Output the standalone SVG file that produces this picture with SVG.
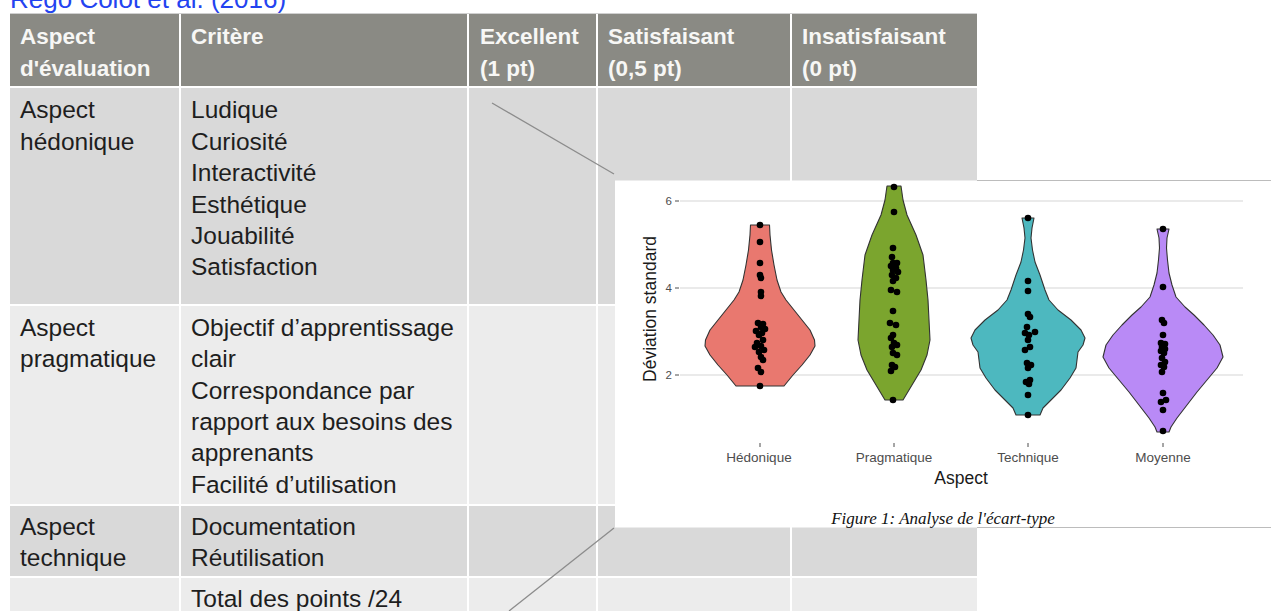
<svg xmlns="http://www.w3.org/2000/svg" width="1271" height="611" viewBox="0 0 1271 611">
<style>
.hd{font-family:"Liberation Sans",Arial,sans-serif;font-size:22.5px;font-weight:bold;fill:#f7f7f5}
.bd{font-family:"Liberation Sans",Arial,sans-serif;font-size:24.5px;fill:#1e1e1e}
.tk{font-family:"Liberation Sans",Arial,sans-serif;font-size:11.5px;fill:#4d4d4d}
.xl{font-family:"Liberation Sans",Arial,sans-serif;font-size:13.5px;fill:#4d4d4d}
.ttl{font-family:"Liberation Sans",Arial,sans-serif;font-size:17.5px;fill:#1a1a1a}
.cap{font-family:"Liberation Serif","Times New Roman",serif;font-size:17px;font-style:italic;fill:#111}
.grid{stroke:#e3e3e3;stroke-width:1.5}
.vio{stroke:#333;stroke-width:1.1;stroke-linejoin:round}
.pt{fill:#000}
.sep{stroke:#ffffff;stroke-width:2}
.conn{stroke:#8c8c8c;stroke-width:1.3;fill:none}
</style>
<rect width="1271" height="611" fill="#ffffff"/>
<text x="10" y="8" font-family="Liberation Sans, Arial, sans-serif" font-size="26" fill="#2343f0">Rego Colot et al. (2016)</text>

<g id="table">
  <line x1="10" y1="13.5" x2="977" y2="13.5" stroke="#d0d0d0" stroke-width="1"/>
  <rect id="header" x="10" y="14" width="967" height="72" fill="#8a8a84"/>
  <rect id="row-hedonique" x="10" y="88" width="967" height="216" fill="#d9d9d9"/>
  <rect id="row-pragmatique" x="10" y="306" width="967" height="198" fill="#ececec"/>
  <rect id="row-technique" x="10" y="506" width="967" height="70" fill="#d9d9d9"/>
  <rect id="row-total" x="10" y="578" width="967" height="40" fill="#ececec"/>
  <g class="sep">
    <line x1="180" y1="14" x2="180" y2="611"/>
    <line x1="468" y1="14" x2="468" y2="611"/>
    <line x1="597" y1="14" x2="597" y2="611"/>
    <line x1="791" y1="14" x2="791" y2="611"/>
  </g>
  <g id="header-text" class="hd">
    <text x="20" y="44">Aspect</text>
    <text x="20" y="76">d'évaluation</text>
    <text x="191" y="44">Critère</text>
    <text x="480" y="44">Excellent</text>
    <text x="480" y="76">(1 pt)</text>
    <text x="608" y="44">Satisfaisant</text>
    <text x="608" y="76">(0,5 pt)</text>
    <text x="802" y="44">Insatisfaisant</text>
    <text x="802" y="76">(0 pt)</text>
  </g>
  <g id="cell-hedonique" class="bd">
    <text x="20" y="118">Aspect</text>
    <text x="20" y="149.5">hédonique</text>
    <text x="191" y="118">Ludique</text>
    <text x="191" y="149.5">Curiosité</text>
    <text x="191" y="181">Interactivité</text>
    <text x="191" y="212.5">Esthétique</text>
    <text x="191" y="244">Jouabilité</text>
    <text x="191" y="275">Satisfaction</text>
  </g>
  <g id="cell-pragmatique" class="bd">
    <text x="20" y="336">Aspect</text>
    <text x="20" y="367.3">pragmatique</text>
    <text x="191" y="336">Objectif d’apprentissage</text>
    <text x="191" y="367.3">clair</text>
    <text x="191" y="398.6">Correspondance par</text>
    <text x="191" y="429.9">rapport aux besoins des</text>
    <text x="191" y="461.2">apprenants</text>
    <text x="191" y="492.5">Facilité d’utilisation</text>
  </g>
  <g id="cell-technique" class="bd">
    <text x="20" y="535">Aspect</text>
    <text x="20" y="566">technique</text>
    <text x="191" y="535">Documentation</text>
    <text x="191" y="566">Réutilisation</text>
  </g>
  <g id="cell-total" class="bd">
    <text x="191" y="607">Total des points /24</text>
  </g>
</g>

<g id="connectors">
  <line class="conn" x1="492" y1="103" x2="614" y2="174"/>
  <line class="conn" x1="509" y1="611" x2="614" y2="528"/>
</g>

<g id="chart">
  <rect x="615" y="180.5" width="656" height="347" fill="#ffffff"/>
  <line x1="977" y1="180.5" x2="1271" y2="180.5" stroke="#bcbcbc" stroke-width="1"/>
  <line x1="977" y1="527.5" x2="1271" y2="527.5" stroke="#bcbcbc" stroke-width="1"/>
  <g id="gridlines">
    <line class="grid" x1="680" y1="201" x2="1243" y2="201"/>
    <line class="grid" x1="680" y1="288" x2="1243" y2="288"/>
    <line class="grid" x1="680" y1="375" x2="1243" y2="375"/>
  </g>
  <g id="y-axis">
    <g stroke="#4d4d4d" stroke-width="1">
      <line x1="675" y1="201" x2="679" y2="201"/>
      <line x1="675" y1="288" x2="679" y2="288"/>
      <line x1="675" y1="375" x2="679" y2="375"/>
    </g>
    <text class="tk" x="672" y="205" text-anchor="end">6</text>
    <text class="tk" x="672" y="292" text-anchor="end">4</text>
    <text class="tk" x="672" y="379" text-anchor="end">2</text>
    <text class="ttl" transform="translate(656,309) rotate(-90)" text-anchor="middle">Déviation standard</text>
  </g>
  <g id="x-axis">
    <g stroke="#4d4d4d" stroke-width="1">
      <line x1="760" y1="443" x2="760" y2="447"/>
      <line x1="894" y1="443" x2="894" y2="447"/>
      <line x1="1028" y1="443" x2="1028" y2="447"/>
      <line x1="1163" y1="443" x2="1163" y2="447"/>
    </g>
    <text class="xl" x="759" y="462" text-anchor="middle">Hédonique</text>
    <text class="xl" x="894" y="462" text-anchor="middle">Pragmatique</text>
    <text class="xl" x="1028" y="462" text-anchor="middle">Technique</text>
    <text class="xl" x="1163" y="462" text-anchor="middle">Moyenne</text>
    <text class="ttl" x="961" y="484" text-anchor="middle">Aspect</text>
  </g>

  <g id="violin-hedonique">
    <path class="vio" fill="#e9786f" d="M750.5,225 L769.5,225 L770,235 L771.5,250 L774,265 L777,280 L781,292 L786,300 L794,310 L802,320 L810,330 L814.5,340 L815,346 L810,355 L802,365 L793,375 L784,386 L736,386 L727,375 L718,365 L710,355 L705,346 L705.5,340 L710,330 L718,320 L726,310 L734,300 L739,292 L743,280 L746,265 L748.5,250 L750,235 Z"/>
    <g class="pt">
      <circle cx="760" cy="225" r="3.3"/><circle cx="760" cy="242" r="3.3"/><circle cx="760" cy="263" r="3.3"/>
      <circle cx="760" cy="275" r="3.3"/><circle cx="761" cy="278" r="3.3"/><circle cx="761" cy="292" r="3.3"/>
      <circle cx="761" cy="296" r="3.3"/><circle cx="758" cy="323" r="3.3"/><circle cx="763" cy="324" r="3.3"/>
      <circle cx="761" cy="327" r="3.3"/><circle cx="765" cy="329" r="3.3"/><circle cx="756" cy="331" r="3.3"/>
      <circle cx="762" cy="333" r="3.3"/><circle cx="759" cy="335" r="3.3"/><circle cx="763" cy="340" r="3.3"/>
      <circle cx="757" cy="343" r="3.3"/><circle cx="761" cy="346" r="3.3"/><circle cx="764" cy="350" r="3.3"/>
      <circle cx="759" cy="352" r="3.3"/><circle cx="755" cy="347" r="3.3"/><circle cx="761" cy="357" r="3.3"/>
      <circle cx="763" cy="360" r="3.3"/><circle cx="758" cy="368" r="3.3"/><circle cx="761" cy="372" r="3.3"/>
      <circle cx="760" cy="386" r="3.3"/>
    </g>
  </g>

  <g id="violin-pragmatique">
    <path class="vio" fill="#7ba52e" d="M887,186 L901,186 L903,200 L907,215 L916,235 L923,255 L926,280 L928,300 L929,320 L930,340 L927,355 L921,370 L912,385 L903,400 L885,400 L876,385 L867,370 L861,355 L858,340 L859,320 L860,300 L862,280 L865,255 L872,235 L881,215 L885,200 Z"/>
    <g class="pt">
      <circle cx="894" cy="187" r="3.3"/><circle cx="894" cy="212" r="3.3"/><circle cx="893" cy="248" r="3.3"/>
      <circle cx="892" cy="257" r="3.3"/><circle cx="893" cy="263" r="3.3"/><circle cx="897" cy="263" r="3.3"/>
      <circle cx="891" cy="266" r="3.3"/><circle cx="896" cy="268" r="3.3"/><circle cx="893" cy="270" r="3.3"/>
      <circle cx="898" cy="272" r="3.3"/><circle cx="892" cy="275" r="3.3"/><circle cx="896" cy="278" r="3.3"/>
      <circle cx="893" cy="281" r="3.3"/><circle cx="891" cy="290" r="3.3"/><circle cx="897" cy="292" r="3.3"/>
      <circle cx="893" cy="311" r="3.3"/><circle cx="890" cy="323" r="3.3"/><circle cx="896" cy="325" r="3.3"/>
      <circle cx="893" cy="335" r="3.3"/><circle cx="891" cy="338" r="3.3"/><circle cx="894" cy="343" r="3.3"/>
      <circle cx="897" cy="345" r="3.3"/><circle cx="892" cy="347" r="3.3"/><circle cx="893" cy="353" r="3.3"/>
      <circle cx="897" cy="355" r="3.3"/><circle cx="892" cy="365" r="3.3"/><circle cx="895" cy="367" r="3.3"/>
      <circle cx="891" cy="371" r="3.3"/><circle cx="893" cy="400" r="3.3"/>
    </g>
  </g>

  <g id="violin-technique">
    <path class="vio" fill="#4db8bf" d="M1022,218 L1034,218 L1032,228 L1031,238 L1032.5,250 L1035,262 L1040,275 L1045,290 L1049,300 L1058,310 L1071,320 L1081,330 L1085,338 L1083,345 L1078,352 L1077,360 L1076,368 L1070,378 L1061,390 L1051,400 L1043,408 L1040,415 L1016,415 L1013,408 L1005,400 L995,390 L986,378 L980,368 L979,360 L978,352 L973,345 L971,338 L975,330 L985,320 L998,310 L1007,300 L1011,290 L1016,275 L1021,262 L1023.5,250 L1025,238 L1024,228 Z"/>
    <g class="pt">
      <circle cx="1028" cy="218" r="3.3"/><circle cx="1028" cy="281" r="3.3"/><circle cx="1028" cy="291" r="3.3"/>
      <circle cx="1028" cy="314" r="3.3"/><circle cx="1030" cy="317" r="3.3"/><circle cx="1027" cy="327" r="3.3"/>
      <circle cx="1035" cy="332" r="3.3"/><circle cx="1025" cy="333" r="3.3"/><circle cx="1029" cy="335" r="3.3"/>
      <circle cx="1028" cy="340" r="3.3"/><circle cx="1030" cy="347" r="3.3"/><circle cx="1025" cy="350" r="3.3"/>
      <circle cx="1027" cy="363" r="3.3"/><circle cx="1031" cy="365" r="3.3"/><circle cx="1028" cy="368" r="3.3"/>
      <circle cx="1030" cy="380" r="3.3"/><circle cx="1026" cy="382" r="3.3"/><circle cx="1029" cy="384" r="3.3"/>
      <circle cx="1028" cy="395" r="3.3"/><circle cx="1028" cy="415" r="3.3"/>
    </g>
  </g>

  <g id="violin-moyenne">
    <path class="vio" fill="#b98af6" d="M1157,229 L1169,229 L1167,238 L1166.5,248 L1167.5,260 L1169,273 L1172,285 L1176,297 L1185,307 L1194,315 L1204,325 L1213,335 L1220,345 L1223,357 L1217,368 L1207,380 L1197,392 L1187,405 L1177,418 L1171,427 L1169,432 L1157,432 L1155,427 L1149,418 L1139,405 L1129,392 L1119,380 L1109,368 L1103,357 L1106,345 L1113,335 L1122,325 L1132,315 L1141,307 L1150,297 L1154,285 L1157,273 L1158.5,260 L1159.5,248 L1159,238 Z"/>
    <g class="pt">
      <circle cx="1163" cy="229" r="3.3"/><circle cx="1163" cy="287" r="3.3"/><circle cx="1162" cy="320" r="3.3"/>
      <circle cx="1164" cy="323" r="3.3"/><circle cx="1163" cy="335" r="3.3"/><circle cx="1161" cy="343" r="3.3"/>
      <circle cx="1165" cy="344" r="3.3"/><circle cx="1162" cy="347" r="3.3"/><circle cx="1165" cy="349" r="3.3"/>
      <circle cx="1161" cy="351" r="3.3"/><circle cx="1164" cy="353" r="3.3"/><circle cx="1162" cy="358" r="3.3"/>
      <circle cx="1165" cy="362" r="3.3"/><circle cx="1161" cy="365" r="3.3"/><circle cx="1164" cy="367" r="3.3"/>
      <circle cx="1162" cy="372" r="3.3"/><circle cx="1163" cy="393" r="3.3"/><circle cx="1166" cy="400" r="3.3"/>
      <circle cx="1161" cy="402" r="3.3"/><circle cx="1163" cy="410" r="3.3"/><circle cx="1163" cy="431" r="3.3"/>
    </g>
  </g>

  <text class="cap" x="943" y="524" text-anchor="middle">Figure 1: Analyse de l'écart-type</text>
</g>
</svg>
